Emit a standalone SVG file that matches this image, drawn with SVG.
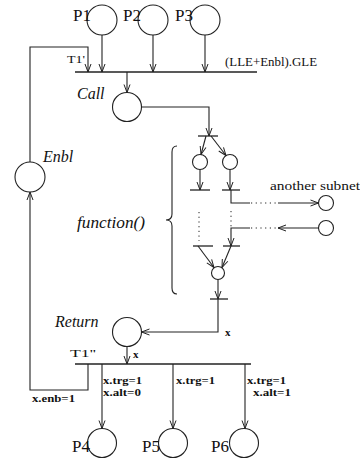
<svg xmlns="http://www.w3.org/2000/svg" width="360" height="461" viewBox="0 0 360 461">
<style>
.pl{fill:none;stroke:#222;stroke-width:1.1}
.ln{fill:none;stroke:#222;stroke-width:1.1}
.bar{stroke:#222;stroke-width:1.3}
.dot{fill:none;stroke:#222;stroke-width:1;stroke-dasharray:1.2 3.5}
text{font-family:'Liberation Serif','Times New Roman','DejaVu Serif',serif;fill:#111}
.it{font-style:italic;font-size:16px}
.b{font-weight:bold;font-size:11px}
</style>
<defs>
<marker id="arr" viewBox="-9 -4 10 8" refX="0" refY="0" markerWidth="10" markerHeight="8" markerUnits="userSpaceOnUse" orient="auto">
<path d="M-8,-3 L0,0 L-8,3" fill="none" stroke="#222" stroke-width="1"/>
</marker>
</defs>
<rect width="360" height="461" fill="#fff"/>

<g id="P1"><circle class="pl" cx="102" cy="20" r="15"/><text x="73" y="21" font-size="17">P1</text></g>
<g id="P2"><circle class="pl" cx="153" cy="20" r="15"/><text x="123" y="21" font-size="17">P2</text></g>
<g id="P3"><circle class="pl" cx="205" cy="20" r="15"/><text x="175" y="21" font-size="17">P3</text></g>

<g id="T1p"><line class="bar" x1="75" y1="72" x2="257" y2="72"/><text x="67" y="63" font-size="11" textLength="18" lengthAdjust="spacingAndGlyphs">T1'</text><text x="225" y="66" font-size="12" textLength="92" lengthAdjust="spacingAndGlyphs">(LLE+Enbl).GLE</text></g>

<g id="Call"><circle class="pl" cx="127" cy="107" r="14.5"/><text class="it" x="77" y="99">Call</text></g>

<g id="Enbl"><circle class="pl" cx="30" cy="177" r="15"/><text class="it" x="43" y="162">Enbl</text></g>

<g id="Tsplit"><line class="bar" x1="198" y1="136" x2="218" y2="136"/></g>
<g id="F1"><circle class="pl" cx="200" cy="162" r="7.5"/></g>
<g id="F2"><circle class="pl" cx="230" cy="162" r="7.5"/></g>
<g id="TA"><line class="bar" x1="190" y1="190" x2="210" y2="190"/></g>
<g id="TB"><line class="bar" x1="222" y1="190" x2="240" y2="190"/></g>
<g id="S1"><circle class="pl" cx="326" cy="203" r="7.5"/><text x="270" y="190" font-size="12" textLength="90" lengthAdjust="spacingAndGlyphs">another subnet</text></g>
<g id="S2"><circle class="pl" cx="326" cy="228" r="7.5"/></g>
<g id="TC"><line class="bar" x1="193" y1="246" x2="213" y2="246"/></g>
<g id="TD"><line class="bar" x1="223" y1="246" x2="240" y2="246"/></g>
<g id="F3"><circle class="pl" cx="218" cy="273" r="6.5"/></g>
<g id="TE"><line class="bar" x1="210" y1="299" x2="228" y2="299"/></g>

<g id="function"><path class="ln" d="M177,146 Q172,146 172,152 L172,214 Q172,220 166,220 Q172,220 172,226 L172,288 Q172,294 177,294"/><text class="it" x="77" y="228" textLength="68" lengthAdjust="spacingAndGlyphs">function()</text></g>

<g id="Return"><circle class="pl" cx="127" cy="332" r="14.5"/><text class="it" x="55" y="327">Return</text></g>

<g id="T1pp"><line class="bar" x1="75" y1="364" x2="251" y2="364"/><text x="70" y="357" font-size="11" textLength="26" lengthAdjust="spacingAndGlyphs">T1''</text></g>

<g id="P4"><circle class="pl" cx="102" cy="443" r="14.5"/><text x="72" y="452" font-size="17">P4</text></g>
<g id="P5"><circle class="pl" cx="173" cy="443" r="14.5"/><text x="142" y="452" font-size="17">P5</text></g>
<g id="P6"><circle class="pl" cx="244" cy="443" r="14.5"/><text x="211" y="452" font-size="17">P6</text></g>

<g id="connectors">
<line class="ln" x1="102" y1="35" x2="102" y2="72" marker-end="url(#arr)"/>
<line class="ln" x1="153" y1="35" x2="153" y2="72" marker-end="url(#arr)"/>
<line class="ln" x1="205" y1="35" x2="205" y2="72" marker-end="url(#arr)"/>
<path class="ln" d="M30,162 L30,47 L88,47 L88,72" marker-end="url(#arr)"/>
<line class="ln" x1="127" y1="72" x2="127" y2="92.5" marker-end="url(#arr)"/>
<path class="ln" d="M141.5,107 L209,107 L209,136" marker-end="url(#arr)"/>
<line class="ln" x1="206" y1="136" x2="201" y2="154.5" marker-end="url(#arr)"/>
<line class="ln" x1="211" y1="136" x2="226" y2="155.5" marker-end="url(#arr)"/>
<line class="ln" x1="200" y1="169.5" x2="200" y2="190" marker-end="url(#arr)"/>
<line class="ln" x1="230" y1="169.5" x2="230" y2="190" marker-end="url(#arr)"/>
<path class="ln" d="M231,190 L231,203 L250,203"/>
<line class="dot" x1="251" y1="203" x2="277" y2="203"/>
<line class="ln" x1="278" y1="203" x2="318.5" y2="203" marker-end="url(#arr)"/>
<line class="dot" x1="199" y1="212" x2="199" y2="241"/>
<line class="dot" x1="231" y1="211" x2="231" y2="227"/>
<line class="ln" x1="318.5" y1="228" x2="278" y2="228" marker-end="url(#arr)"/>
<line class="dot" x1="251" y1="228" x2="277" y2="228"/>
<path class="ln" d="M250,228 L231,228 L231,246" marker-end="url(#arr)"/>
<line class="ln" x1="198" y1="246" x2="214" y2="267.5" marker-end="url(#arr)"/>
<line class="ln" x1="231" y1="246" x2="222" y2="267.5" marker-end="url(#arr)"/>
<line class="ln" x1="218" y1="279.5" x2="218" y2="299" marker-end="url(#arr)"/>
<path class="ln" d="M218,299 L218,332 L141.5,332" marker-end="url(#arr)"/>
<text class="b" x="225" y="336">x</text>
<line class="ln" x1="127" y1="346.5" x2="127" y2="364" marker-end="url(#arr)"/>
<text class="b" x="133" y="358">x</text>
<path class="ln" d="M88,364 L88,390 L30,390 L30,192" marker-end="url(#arr)"/>
<text class="b" x="32" y="402" textLength="43" lengthAdjust="spacingAndGlyphs">x.enb=1</text>
<line class="ln" x1="102" y1="364" x2="102" y2="428.5" marker-end="url(#arr)"/>
<line class="ln" x1="173" y1="364" x2="173" y2="428.5" marker-end="url(#arr)"/>
<line class="ln" x1="245" y1="364" x2="245" y2="428.5" marker-end="url(#arr)"/>
<text class="b" x="103" y="384" textLength="39" lengthAdjust="spacingAndGlyphs">x.trg=1</text>
<text class="b" x="103" y="396" textLength="38" lengthAdjust="spacingAndGlyphs">x.alt=0</text>
<text class="b" x="176" y="384" textLength="39" lengthAdjust="spacingAndGlyphs">x.trg=1</text>
<text class="b" x="247" y="384" textLength="39" lengthAdjust="spacingAndGlyphs">x.trg=1</text>
<text class="b" x="253" y="396" textLength="38" lengthAdjust="spacingAndGlyphs">x.alt=1</text>
</g>
</svg>
